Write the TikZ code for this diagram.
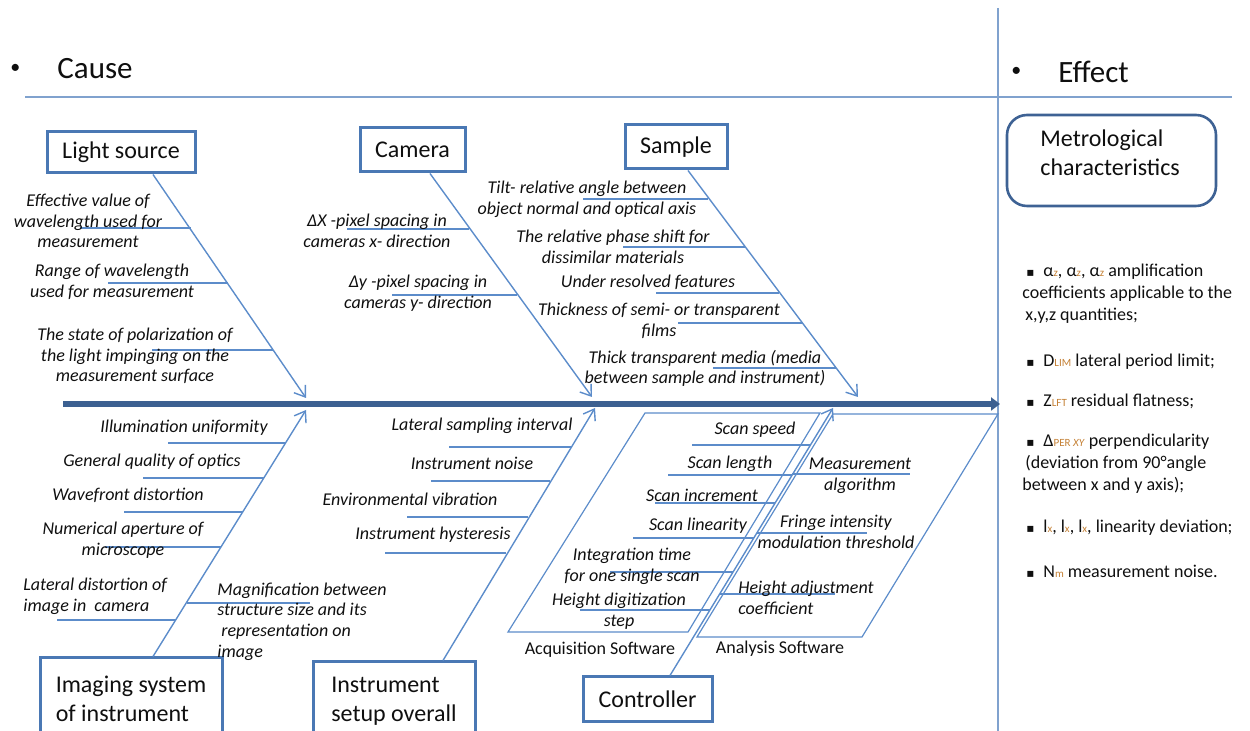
\documentclass[tikz,border=0pt]{standalone}
\usepackage{fontspec}
\setmainfont{Carlito}
\newfontfamily\symfont{DejaVu Sans}
\usetikzlibrary{arrows.meta}

\definecolor{boxblue}{RGB}{74,120,180}
\definecolor{metblue}{RGB}{62,98,148}
\definecolor{ribblue}{RGB}{92,140,202}
\definecolor{spineblue}{RGB}{60,96,145}
\definecolor{rulerblue}{RGB}{128,162,206}
\definecolor{ink}{RGB}{15,15,15}
\definecolor{subink}{RGB}{196,128,52}

% small subscript set on the baseline
\newcommand\sbs[1]{{\fontsize{5.5}{6}\selectfont\color{subink}#1}}
% square bullet of the effect list
\newcommand\itembullet{\hspace*{2pt}\makebox[8.5pt][l]{\symfont\fontsize{6}{6}\selectfont ▪}}
% horizontal rib: name, x start, x end, y
\newcommand\ribline[4]{%
  \coordinate (#1-a) at (#2,#4);
  \coordinate (#1-b) at (#3,#4);
  \draw[rib] (#1-a) -- (#1-b);}

\begin{document}
\begin{tikzpicture}[x=0.5pt,y=-0.5pt,
  cbox/.style={draw=boxblue,line width=1.5pt,text=ink,font=\fontsize{12}{14.5}\selectfont,inner sep=0pt},
  lab/.style={text=ink,font=\itshape\fontsize{9}{10.3}\selectfont,align=center,inner sep=0pt},
  soft/.style={text=ink,font=\fontsize{9}{10}\selectfont,inner sep=0pt},
  eff/.style={text=ink,font=\fontsize{9}{11}\selectfont,align=left,anchor=west,inner sep=0pt},
  branch/.style={draw=ribblue,line width=0.7pt,-{Straight Barb[length=5pt,width=7pt]}},
  rib/.style={draw=ribblue,line width=0.7pt},
  spine/.style={draw=spineblue,line width=2.7pt,-{Triangle[length=4.5pt,width=6.5pt]}},
  par/.style={draw=ribblue,line width=0.6pt},
  head/.style={text=ink,font=\fontsize{15.5}{18}\selectfont,inner sep=0pt}]

\useasboundingbox (0,0) rectangle (1250,731);
\clip (0,0) rectangle (1250,731);

% frame lines
\coordinate (hl0) at (25,97);
\coordinate (hl1) at (1232,97);
\coordinate (vl0) at (998,8);
\coordinate (vl1) at (998,735);
\draw[rulerblue,line width=1pt] (hl0) -- (hl1);
\draw[rulerblue,line width=0.6pt] (vl0) -- (vl1);

% headings
\node[head,anchor=west,font=\fontsize{10}{12}\selectfont] (cb) at (10,69) {•};
\node[head,anchor=west] (ct) at (57,69) {Cause};
\node[head,anchor=west,font=\fontsize{10}{12}\selectfont] (eb) at (1011,72) {•};
\node[head,anchor=west] (et) at (1058,72) {Effect};

% cause boxes
\node[cbox,minimum width=74pt,minimum height=20.5pt] (ls) at (121,152.5) {Light source};
\node[cbox,minimum width=52.5pt,minimum height=22pt] (cam) at (412.5,150) {Camera};
\node[cbox,minimum width=51pt,minimum height=22pt] (smp) at (676,147) {Sample};
\node[cbox,minimum width=91pt,minimum height=41pt,align=left] (img) at (131,699) {Imaging system\\of instrument};
\node[cbox,minimum width=81pt,minimum height=39pt,align=left] (ins) at (394,701) {Instrument\\setup overall};
\node[cbox,minimum width=64.5pt,minimum height=22.5pt] (ctl) at (647.5,699.5) {Controller};

% effect box
\node[draw=metblue,line width=1.3pt,rounded corners=10pt,minimum width=104.5pt,minimum height=45.5pt] (met) at (1111.5,160.5) {};
\node[anchor=west,align=left,text=ink,inner sep=0pt,font=\fontsize{12}{14.5}\selectfont] (mett) at (1040,152.5) {Metrological\\characteristics};

% main spine
\coordinate (sp0) at (63,404);
\coordinate (sp1) at (1000,404);
\draw[spine] (sp0) -- (sp1);

% software panels
\draw[par] (645,413) -- (820,413) -- (688,632) -- (508,632) -- cycle;
\draw[par] (833,414) -- (998,414) -- (862,637) -- (697,637) -- cycle;

% branch arrows
\coordinate (lstip) at (306,398);
\coordinate (camtip) at (592,397);
\coordinate (smptip) at (858,397);
\coordinate (imgtip) at (306,410);
\coordinate (instip) at (595,408);
\coordinate (ctltip) at (833,408);
\draw[branch] ([xshift=16pt]ls.south) -- (lstip);
\draw[branch] ([xshift=8.75pt]cam.south) -- (camtip);
\draw[branch] ([xshift=6pt]smp.south) -- (smptip);
\draw[branch] ([xshift=11pt]img.north) -- (imgtip);
\draw[branch] ([xshift=24.5pt]ins.north) -- (instip);
\draw[branch] ([xshift=11.25pt]ctl.north) -- (ctltip);

% light source
\ribline{l1}{80}{191}{228}
\ribline{l2}{108}{228}{283}
\ribline{l3}{152}{273}{350}
\node[lab] (l1t) at (88,221) {Effective value of\\wavelength used for\\measurement};
\node[lab] (l2t) at (112,282) {Range of wavelength\\used for measurement};
\node[lab] (l3t) at (135,356) {The state of polarization of\\the light impinging on the\\measurement surface};

% camera
\ribline{c1}{347}{469}{229}
\ribline{c2}{392}{517}{295}
\node[lab] (c1t) at (377,231) {ΔX -pixel spacing in\\cameras x- direction};
\node[lab] (c2t) at (418,293) {Δy -pixel spacing in\\cameras y- direction};

% sample
\ribline{s1}{583}{708}{199}
\ribline{s2}{623}{745}{247}
\ribline{s3}{656}{779}{293}
\ribline{s4}{678}{802}{323}
\ribline{s5}{713}{836}{368}
\node[lab] (s1t) at (587,199.5) {Tilt- relative angle between\\object normal and optical axis};
\node[lab] (s2t) at (613,247) {The relative phase shift for\\dissimilar materials};
\node[lab] (s3t) at (648,282) {Under resolved features};
\node[lab] (s4t) at (659,321) {Thickness of semi- or transparent\\films};
\node[lab] (s5t) at (705,368.5) {Thick transparent media (media\\between sample and instrument)};

% imaging system
\ribline{i1}{168}{286}{443}
\ribline{i2}{143}{264}{478}
\ribline{i3}{124}{243}{512}
\ribline{i4}{105}{221}{547}
\ribline{i5}{57}{176}{620}
\ribline{i6}{187}{310}{603}
\node[lab] (i1t) at (184,428) {Illumination uniformity};
\node[lab] (i2t) at (152,462) {General quality of optics};
\node[lab] (i3t) at (128,495) {Wavefront distortion};
\node[lab] (i4t) at (123,540.5) {Numerical aperture of\\microscope};
\node[lab,anchor=west,align=left] (i5t) at (23,596) {Lateral distortion of\\image in\ \ camera};
\node[lab,anchor=west,align=left] (i6t) at (217,621.5) {Magnification between\\structure size and its\\\hspace*{2pt}representation on\\image};

% instrument setup
\ribline{n1}{449}{571}{447}
\ribline{n2}{431}{550}{481}
\ribline{n3}{407}{528}{517}
\ribline{n4}{385}{506}{553}
\node[lab] (n1t) at (482,426) {Lateral sampling interval};
\node[lab] (n2t) at (472,463) {Instrument noise};
\node[lab] (n3t) at (410,499) {Environmental vibration};
\node[lab] (n4t) at (433,535) {Instrument hysteresis};

% controller
\ribline{k1}{692}{810}{445}
\ribline{k2}{668}{792}{475}
\ribline{k3}{792}{910}{474}
\ribline{k4}{655}{775}{503}
\ribline{k5}{633}{754}{538}
\ribline{k6}{757}{867}{533}
\ribline{k7}{610}{733}{572}
\ribline{k8}{580}{710}{610}
\ribline{k9}{720}{835}{594}
\node[lab] (k1t) at (755,430) {Scan speed};
\node[lab] (k2t) at (730,464) {Scan length};
\node[lab] (k3t) at (860,475.5) {Measurement\\algorithm};
\node[lab] (k4t) at (702,495) {Scan increment};
\node[lab] (k5t) at (698,526) {Scan linearity};
\node[lab] (k6t) at (836,532) {Fringe intensity\\modulation threshold};
\node[lab] (k7t) at (632,566.5) {Integration time\\for one single scan};
\node[lab] (k8t) at (619,611.5) {Height digitization\\step};
\node[lab,anchor=west,align=left] (k9t) at (738,598) {Height adjustment\\coefficient};
\node[soft] (acq) at (600,650) {Acquisition Software};
\node[soft] (ana) at (780,649) {Analysis Software};

% effect list
\node[eff] (e1) at (1022,294) {\itembullet α\sbs{z}, α\sbs{z}, α\sbs{z} amplification\\coefficients applicable to the\\\hspace*{1.5pt}x,y,z quantities;};
\node[eff] (e2) at (1022,362) {\itembullet D\sbs{LIM} lateral period limit;};
\node[eff] (e3) at (1022,401) {\itembullet Z\sbs{LFT} residual flatness;};
\node[eff] (e4) at (1022,464) {\itembullet Δ\sbs{PER \textit{XY}} perpendicularity\\\hspace*{1.5pt}(deviation from 90°angle\\between x and y axis);};
\node[eff] (e5) at (1022,528) {\itembullet l\sbs{x}, l\sbs{x}, l\sbs{x}, linearity deviation;};
\node[eff] (e6) at (1022,571) {\itembullet N\sbs{m} measurement noise.};

\end{tikzpicture}
\end{document}
